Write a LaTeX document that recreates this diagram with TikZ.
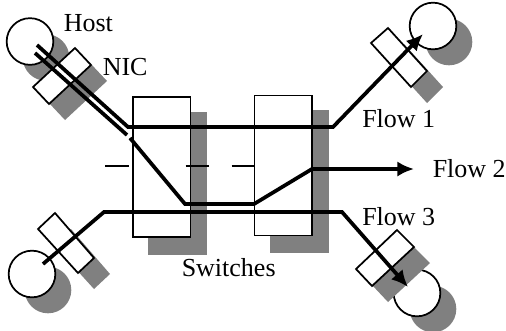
\documentclass[tikz,border=0pt]{standalone}
\usepackage{fontspec}
\setmainfont{Liberation Serif}
\usetikzlibrary{arrows.meta}

\begin{document}
\begin{tikzpicture}[x=.75pt, y=-.75pt,
		shadowfill/.style={fill=gray},
		hostnode/.style={circle, draw, fill=white, line width=1.3pt, inner sep=0, minimum size=35pt},
		nicbox/.style={draw, fill=white, line width=1.3pt},
		switchnode/.style={rectangle, draw, fill=white, line width=1.3pt, inner sep=0, minimum width=43.3pt, minimum height=105pt},
		flowline/.style={line width=2.8pt},
		flowarrow/.style={flowline, -{Latex[length=12.5pt,width=11.5pt]}},
		tickline/.style={line width=1.1pt},
		lbl/.style={anchor=base west, inner sep=0, font=\fontsize{19.5}{22}\selectfont}]
		\useasboundingbox (0,0) rectangle (506,330);

		% Hosts
		\foreach \x/\y in {30/41.5, 433/26, 32/274, 417/293}{
			\fill[shadowfill] (\x+16, \y+16) circle (23.3);}
		\node[hostnode] (hostA) at (30,41.5) {};
		\node[hostnode] (hostB) at (433,26) {};
		\node[hostnode] (hostC) at (32,274) {};
		\node[hostnode] (hostD) at (417,293) {};

		% NIC
		\foreach \a/\b/\c/\d in {
			{75,48}/{91,65}/{49,104}/{33,87},
			{388,28}/{427,71}/{411,87}/{371,43},
			{55,213}/{94,258}/{78,273}/{38,229},
			{397,230}/{414,247}/{372,286}/{356,269}}{
			\fill[shadowfill, shift={(16,16)}] (\a) -- (\b) -- (\c) -- (\d) -- cycle;
			\draw[nicbox] (\a) -- (\b) -- (\c) -- (\d) -- cycle;}

		% Switches
		\fill[shadowfill] (148,112) rectangle (207,254.5);
		\fill[shadowfill] (270,110) rectangle (329,253);
		\node[switchnode, minimum height=105.5pt] (swA) at (161.5,167) {};
		\node[switchnode] (swB) at (283.3,165.5) {};

		% Ticks
		\foreach \x in {105, 185.5, 231.5}{
			\draw[tickline] (\x,166) -- (\x+23.5,166);}

		% Flows
		\coordinate (a1) at (37,45);
		\coordinate (a2) at (128,127);
		\coordinate (a3) at (333,127);
		\coordinate (a4) at (423,34);
		\draw[flowarrow] (a1) -- (a2) -- (a3) -- (a4);

		\coordinate (b1) at (35,53);
		\coordinate (b2) at (127,135);
		\coordinate (b3) at (130,138);
		\coordinate (b4) at (185,204);
		\coordinate (b5) at (254,204);
		\coordinate (b6) at (312,169);
		\coordinate (b7) at (414,169);
		\draw[flowline] (b1) -- (b2);
		\draw[flowarrow] (b3) -- (b4) -- (b5) -- (b6) -- (b7);

		\coordinate (c1) at (43,264);
		\coordinate (c2) at (104,212);
		\coordinate (c3) at (342,212);
		\coordinate (c4) at (408,287);
		\draw[flowarrow] (c1) -- (c2) -- (c3) -- (c4);

		% Labels
		\node[lbl] (host) at (63.5,31) {Host};
		\node[lbl] (nic) at (102.5,75) {NIC};
		\node[lbl] (flowA) at (362,127.5) {Flow 1};
		\node[lbl] (flowB) at (432.5,177) {Flow 2};
		\node[lbl] (flowC) at (362,225) {Flow 3};
		\node[lbl] (switches) at (181.5,276.5) {Switches};
	\end{tikzpicture}
\end{document}
